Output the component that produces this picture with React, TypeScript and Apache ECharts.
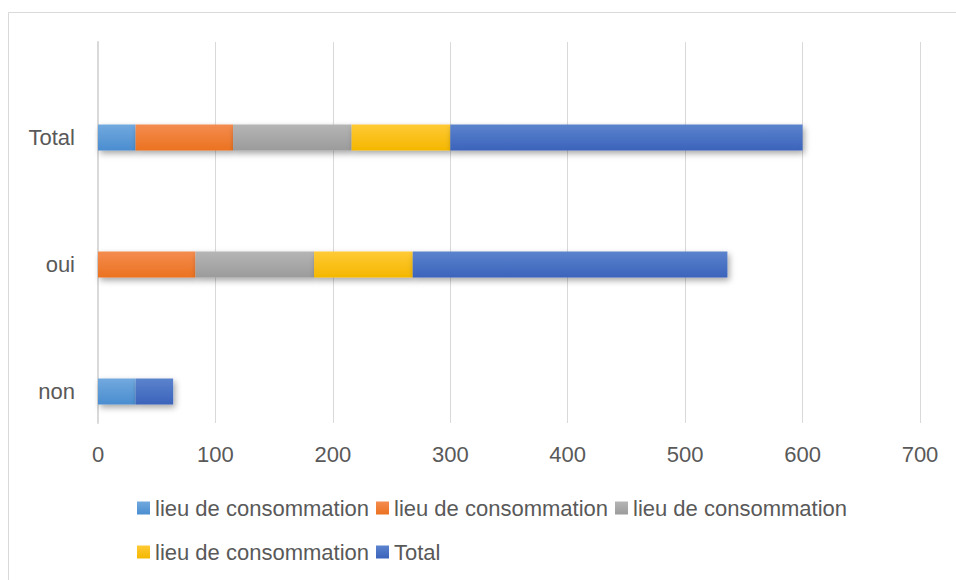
import React, { useEffect, useRef } from "react";
import * as echarts from "echarts";

const categories = ["non", "oui", "Total"];
const seriesNames = [
  "lieu de consommation (1)",
  "lieu de consommation (2)",
  "lieu de consommation (3)",
  "lieu de consommation (4)",
  "Total",
];
const legendLabels = [
  "lieu de consommation",
  "lieu de consommation",
  "lieu de consommation",
  "lieu de consommation",
  "Total",
];
const valuesLieu1 = [32, 0, 32];
const valuesLieu2 = [0, 83, 83];
const valuesLieu3 = [0, 101, 101];
const valuesLieu4 = [0, 84, 84];
const valuesTotal = [32, 268, 300];
const ghostValues = [0, 0, 0];
const xTicks = { min: 0, max: 700, interval: 100 };

const gradients: [string, string][] = [
  ["#72a9de", "#4a8dd0"],
  ["#f48c4f", "#eb7220"],
  ["#b5b5b5", "#9b9b9b"],
  ["#ffca35", "#f4b700"],
  ["#5b83cd", "#3b63bb"],
];

const grad = (c: [string, string]) =>
  new echarts.graphic.LinearGradient(0, 0, 0, 1, [
    { offset: 0, color: c[0] },
    { offset: 1, color: c[1] },
  ]);

export default function App() {
  const ref = useRef<HTMLDivElement>(null);
  useEffect(() => {
    if (!ref.current) return;
    const chart = echarts.init(ref.current, null, { renderer: "svg" });
    const allValues = [valuesLieu1, valuesLieu2, valuesLieu3, valuesLieu4, valuesTotal];
    const fontFamily = "'Liberation Sans', Arial, sans-serif";
    const series: any[] = [
      {
        name: "ghost",
        type: "bar",
        stack: "ghost",
        data: ghostValues,
        barWidth: 26,
        barGap: "146%",
        itemStyle: { color: "#ffffff" },
        silent: true,
      },
    ];
    allValues.forEach((vals, i) =>
      series.push({
        name: seriesNames[i],
        type: "bar",
        stack: "main",
        data: vals,
        barWidth: 26,
        barGap: "146%",
        itemStyle: {
          color: grad(gradients[i]),
          shadowColor: "rgba(0,0,0,0.35)",
          shadowBlur: 6,
          shadowOffsetX: 2,
          shadowOffsetY: 3,
        },
      })
    );
    const legendFormatter = (name: string) => {
      const idx = seriesNames.indexOf(name);
      return idx >= 0 ? legendLabels[idx] : name;
    };
    const legendCommon = {
      left: 132,
      itemWidth: 13,
      itemHeight: 13,
      itemGap: 7,
      icon: "rect",
      formatter: legendFormatter,
      textStyle: { fontSize: 22, color: "#595959", fontFamily },
    };
    chart.setOption({
      animation: false,
      backgroundColor: "#ffffff",
      textStyle: { fontFamily },
      grid: { left: 98, right: 36, top: 42, bottom: 157 },
      xAxis: {
        type: "value",
        min: xTicks.min,
        max: xTicks.max,
        interval: xTicks.interval,
        axisLine: { show: false },
        axisTick: { show: false },
        axisLabel: { fontSize: 22, color: "#595959", margin: 20, fontFamily },
        splitLine: { lineStyle: { color: "#d9d9d9", width: 1 } },
      },
      yAxis: {
        type: "category",
        data: categories,
        axisLine: { show: true, lineStyle: { color: "#d9d9d9", width: 2 } },
        axisTick: { show: false },
        axisLabel: {
          interval: 0,
          hideOverlap: false,
          fontSize: 22,
          color: "#595959",
          margin: 23,
          fontFamily,
          lineHeight: 64,
          formatter: (v: string) => "\n" + v,
        },
      },
      legend: [
        { ...legendCommon, top: 492, data: seriesNames.slice(0, 3) },
        { ...legendCommon, top: 536, data: seriesNames.slice(3) },
      ],
      graphic: [
        {
          type: "rect",
          shape: { x: 8.5, y: 12.5, width: 960, height: 600 },
          style: { fill: "none", stroke: "#d9d9d9", lineWidth: 1 },
          silent: true,
          z: -1,
        },
      ],
      series,
    });
    return () => chart.dispose();
  }, []);
  return (
    <div
      ref={ref}
      style={{ position: "fixed", left: 0, top: 0, width: 956, height: 580 }}
    />
  );
}
